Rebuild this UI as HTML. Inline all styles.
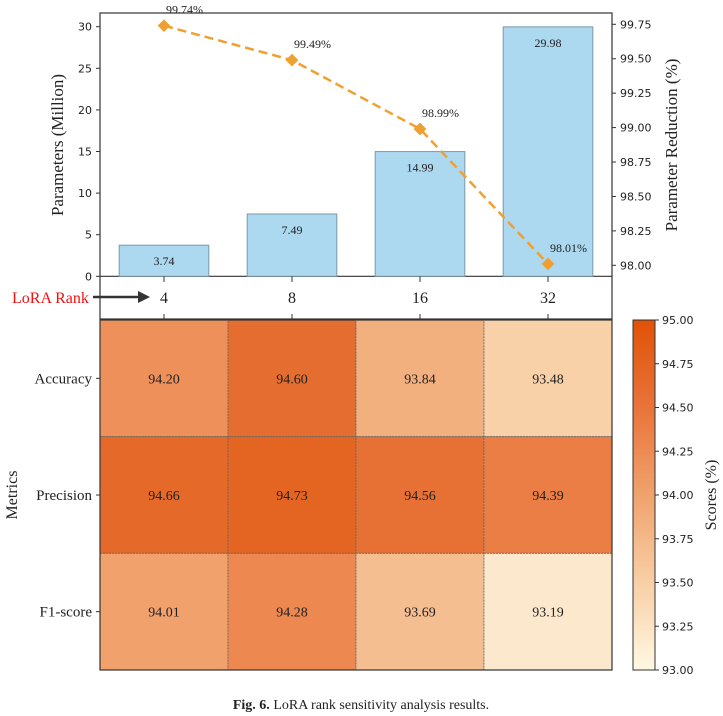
<!DOCTYPE html>
<html><head><meta charset="utf-8"><style>
body{margin:0;background:#fff;}
svg{display:block;}
.serif{font-family:"Liberation Serif",serif;}
.sans{font-family:"DejaVu Sans","Liberation Sans",sans-serif;}
</style></head><body>
<svg id="chart" width="723" height="716" viewBox="0 0 723 716" xmlns="http://www.w3.org/2000/svg">
<g id="topg"></g>
<g id="heat"></g>
<g id="cbar"></g>
<text x="361" y="709" text-anchor="middle" font-size="14" class="serif" fill="#222"><tspan font-weight="bold">Fig. 6.</tspan> LoRA rank sensitivity analysis results.</text>
</svg>
<script>
const ranks=["4","8","16","32"];
const params=[3.74,7.49,14.99,29.98];
const reduction=[99.74,99.49,98.99,98.01];
const leftTicks=[0,5,10,15,20,25,30];
const rightTicks=[98.00,98.25,98.50,98.75,99.00,99.25,99.50,99.75];
const metrics=["Accuracy","Precision","F1-score"];
const accuracyRow=[94.20,94.60,93.84,93.48];
const precisionRow=[94.66,94.73,94.56,94.39];
const f1Row=[94.01,94.28,93.69,93.19];
const cbarTicks=[93.00,93.25,93.50,93.75,94.00,94.25,94.50,94.75,95.00];

const NS="http://www.w3.org/2000/svg";
function mk(p,t,a,txt){const e=document.createElementNS(NS,t);for(const k in a)e.setAttribute(k,a[k]);if(txt!==undefined)e.textContent=txt;p.appendChild(e);return e;}
const X0=100,X1=612,colW=(X1-X0)/ranks.length;
const xc=i=>X0+colW*(i+0.5);
const yL=v=>276.3-v*(276.3-26.7)/30;
const yR=v=>265.3-(v-98)*(265.3-24.3)/1.75;
const topG=document.getElementById('topg');
let e=mk(topG,'rect',{x:X0,y:13,width:X1-X0,height:306,fill:'none',stroke:'#333','stroke-width':1.2});


mk(topG,'line',{x1:X0,x2:X1,y1:276.3,y2:276.3,stroke:'#333','stroke-width':1.2});
params.forEach((v,i)=>{
 const b=mk(topG,'rect',{x:xc(i)-colW*0.35,y:yL(v),width:colW*0.7,height:276.3-yL(v),fill:'#acd8f0',stroke:'#7a99a8','stroke-width':1});
 
 
 const t=mk(topG,'text',{x:xc(i),y:yL(v)+20,'text-anchor':'middle','font-size':12,class:'serif',fill:'#222'},v.toFixed(2));
 
 
});
leftTicks.forEach(v=>{
 mk(topG,'line',{x1:X0-4,x2:X0,y1:yL(v),y2:yL(v),stroke:'#333'});
 const t=mk(topG,'text',{x:X0-8,y:yL(v)+4,'text-anchor':'end','font-size':11,class:'sans',fill:'#222'},v);
 
 
});
rightTicks.forEach(v=>{
 mk(topG,'line',{x1:X1,x2:X1+4,y1:yR(v),y2:yR(v),stroke:'#333'});
 const t=mk(topG,'text',{x:X1+8,y:yR(v)+4,'font-size':11,class:'sans',fill:'#222'},v.toFixed(2));
 
 
});
const pts=reduction.map((v,i)=>xc(i)+','+yR(v)).join(' ');
e=mk(topG,'polyline',{points:pts,fill:'none',stroke:'#f0a030','stroke-width':2.5,'stroke-dasharray':'9,5'});


reduction.forEach((v,i)=>{
 const x=xc(i),y=yR(v);
 const m=mk(topG,'rect',{x:x-4.5,y:y-4.5,width:9,height:9,fill:'#f0a030',transform:`rotate(45 ${x} ${y})`});
 
 
 const t=mk(topG,'text',{x:x+2,y:y-12,'font-size':12,class:'serif',fill:'#222'},v.toFixed(2)+'%');
 
 
});
ranks.forEach((r,i)=>{
 mk(topG,'line',{x1:xc(i),x2:xc(i),y1:276.3,y2:282,stroke:'#333'});
 mk(topG,'line',{x1:xc(i),x2:xc(i),y1:314,y2:319,stroke:'#333'});
 const t=mk(topG,'text',{x:xc(i),y:303,'text-anchor':'middle','font-size':16,class:'serif',fill:'#222'},r);
 
 
});
e=mk(topG,'text',{x:12,y:303,'font-size':16,class:'serif',fill:'#ee1111'},'LoRA Rank');


mk(topG,'line',{x1:93,x2:140,y1:297,y2:297,stroke:'#333','stroke-width':2.5});
e=mk(topG,'polygon',{points:'138,291 150,297 138,303',fill:'#333'});


e=mk(topG,'text',{x:0,y:0,'font-size':17,class:'serif',fill:'#222','text-anchor':'middle',transform:'translate(63,145) rotate(-90)'},'Parameters (Million)');


e=mk(topG,'text',{x:0,y:0,'font-size':17,class:'serif',fill:'#222','text-anchor':'middle',transform:'translate(677,145) rotate(-90)'},'Parameter Reduction (%)');



const stops=[[93.0,[255,248,228]],[93.5,[248,207,165]],[94.0,[240,162,109]],[94.5,[232,116,58]],[95.0,[224,82,6]]];
function col(v){v=Math.max(93,Math.min(95,v));for(let k=0;k<stops.length-1;k++){const[a,ca]=stops[k],[b,cb]=stops[k+1];if(v<=b){const t=(v-a)/(b-a);return 'rgb('+ca.map((c,j)=>Math.round(c+(cb[j]-c)*t)).join(',')+')';}}}
const heat=document.getElementById('heat');
const rows=[accuracyRow,precisionRow,f1Row];
const HY0=320,HY1=670,rowH=(HY1-HY0)/rows.length;
rows.forEach((row,r)=>{
 row.forEach((v,c)=>{
  const cell=mk(heat,'rect',{x:X0+c*colW,y:HY0+r*rowH,width:colW,height:rowH,fill:col(v),stroke:'#666','stroke-width':0.8,'stroke-dasharray':'2,1'});
  
  
  const t=mk(heat,'text',{x:X0+c*colW+colW/2,y:HY0+r*rowH+rowH/2+5,'text-anchor':'middle','font-size':14,class:'serif',fill:'#222'},v.toFixed(2));
  
  
 });
 mk(heat,'line',{x1:X0-4,x2:X0,y1:HY0+(r+.5)*rowH,y2:HY0+(r+.5)*rowH,stroke:'#333'});
 const t=mk(heat,'text',{x:X0-8,y:HY0+(r+.5)*rowH+5,'text-anchor':'end','font-size':15,class:'serif',fill:'#222'},metrics[r]);
 
 
});
mk(heat,'rect',{x:X0,y:HY0,width:X1-X0,height:HY1-HY0,fill:'none',stroke:'#333','stroke-width':1.2});
e=mk(heat,'text',{x:0,y:0,'font-size':16,class:'serif',fill:'#222','text-anchor':'middle',transform:'translate(17,495) rotate(-90)'},'Metrics');



const cb=document.getElementById('cbar');
const defs=mk(cb,'defs',{});
const g=mk(defs,'linearGradient',{id:'cg',x1:0,y1:1,x2:0,y2:0});
for(let k=0;k<=20;k++){const v=93+k*0.1;mk(g,'stop',{offset:k/20,'stop-color':col(v)});}
const CX=633,CW=22;
const yC=v=>HY1-(v-93)/2*(HY1-HY0);
e=mk(cb,'rect',{x:CX,y:HY0,width:CW,height:HY1-HY0,fill:'url(#cg)',stroke:'#333','stroke-width':1});


cbarTicks.forEach(v=>{
 mk(cb,'line',{x1:CX+CW,x2:CX+CW+4,y1:yC(v),y2:yC(v),stroke:'#333'});
 const t=mk(cb,'text',{x:CX+CW+7,y:yC(v)+4,'font-size':11,class:'sans',fill:'#222'},v.toFixed(2));
 
 
});
e=mk(cb,'text',{x:0,y:0,'font-size':16,class:'serif',fill:'#222','text-anchor':'middle',transform:'translate(716,495) rotate(-90)'},'Scores (%)');


</script>
</body></html>
